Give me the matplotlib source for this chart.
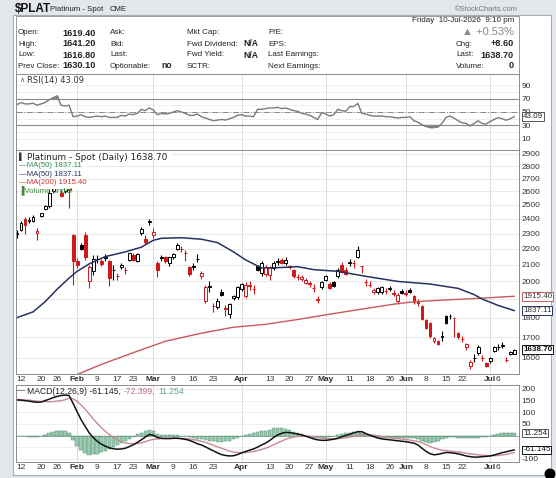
import numpy as np
import pandas as pd
import matplotlib
matplotlib.use("Agg")
import matplotlib.pyplot as plt
from matplotlib.patches import Rectangle, Ellipse
from matplotlib.ticker import NullLocator

plt.rcParams['font.family'] = ['Liberation Sans', 'DejaVu Sans']
plt.rcParams['axes.unicode_minus'] = False

# ---------------- data ----------------
holidays = ['2026-01-19', '2026-02-16', '2026-04-03', '2026-05-25', '2026-06-19', '2026-07-03']
dates = pd.bdate_range('2026-01-09', '2026-07-10', freq='C', holidays=holidays)

opens = [2300,2325,2400,2385,2385,2305,2420,2470,2490,2600,
         2700,2590,2600,2660,2290,2125,2225,2290,2000,2060,
         2135,2125,2143,2125,2068,2032,2085,2066,2130,2160,
         2125,2305,2265,2378,2290,2110,2143,2145,2110,2145,
         2200,2198,2175,2085,2088,2133,2030,1890,1968,1862,
         1855,1942,1850,1820,1905,1910,1955,1915,1978,1956,
         2090,2050,2045,2040,2080,2118,2130,2110,2092,2065,
         2028,2012,1990,1990,1962,1895,1965,2010,1985,1995,
         2030,2100,2070,2113,2112,2150,2092,1997,1982,1940,
         1940,1940,1947,1958,1932,1890,1947,1932,1952,1915,
         1882,1860,1785,1770,1680,1680,1703,1810,1808,1800,
         1720,1692,1650,1565,1598,1625,1601,1575,1585,1635,
         1650,1658,1592,1620,1619.4]
highs = [2325,2385,2410,2410,2425,2335,2445,2500,2610,2720,
         2900,2620,2720,2680,2300,2140,2240,2310,2100,2160,
         2160,2135,2165,2130,2100,2050,2110,2085,2175,2170,
         2175,2345,2290,2400,2340,2120,2160,2155,2150,2175,
         2240,2220,2195,2095,2110,2165,2060,1980,2000,1880,
         1905,1955,1865,1880,1925,1975,1990,1995,2000,1980,
         2100,2120,2100,2090,2125,2140,2140,2145,2100,2075,
         2045,2040,2020,2005,1985,1915,2000,2040,1995,2000,
         2080,2115,2085,2135,2130,2215,2095,2015,2000,1960,
         1970,1975,1960,1975,1950,1935,1955,1950,1960,1920,
         1900,1865,1790,1775,1700,1685,1730,1815,1820,1805,
         1725,1705,1670,1590,1620,1660,1615,1580,1605,1655,
         1665,1675,1605,1635,1641.2]
lows = [2270,2315,2300,2370,2375,2255,2410,2460,2480,2590,
        2690,2555,2590,2480,1980,2080,2190,2130,1960,2040,
        2110,2095,2120,1975,2010,2010,2075,2045,2120,2120,
        2115,2290,2230,2360,2270,2025,2125,2110,2090,2135,
        2190,2180,2120,2030,2065,2115,2015,1880,1940,1830,
        1845,1915,1810,1800,1895,1900,1945,1905,1950,1930,
        2060,2030,2030,2010,2070,2100,2105,2100,2075,2020,
        2010,2000,1985,1970,1940,1880,1955,2000,1955,1965,
        2020,2050,2040,2095,2080,2140,2050,1975,1965,1930,
        1930,1930,1930,1945,1915,1870,1930,1915,1935,1875,
        1860,1785,1740,1695,1670,1660,1680,1765,1790,1700,
        1690,1675,1640,1550,1580,1615,1585,1560,1575,1630,
        1640,1645,1580,1615,1616.8]
closes = [2302,2370,2355,2390,2410,2320,2440,2490,2590,2700,
          2850,2565,2690,2610,2120,2100,2200,2145,2085,2135,
          2138,2105,2145,2020,2070,2030,2100,2065,2170,2130,
          2165,2330,2245,2382,2310,2070,2146,2120,2145,2165,
          2225,2196,2172,2045,2090,2136,2050,1970,1972,1860,
          1890,1925,1848,1870,1918,1970,1985,1980,1976,1954,
          2070,2110,2085,2080,2110,2120,2110,2130,2085,2030,
          2026,2024,2010,1988,1960,1900,1995,2030,1962,1972,
          2070,2055,2045,2116,2110,2190,2090,1995,1980,1952,
          1960,1965,1945,1962,1930,1925,1935,1930,1940,1885,
          1880,1790,1748,1705,1695,1665,1706,1770,1810,1797,
          1700,1690,1665,1580,1600,1650,1600,1565,1600,1650,
          1652,1660,1590,1630.1,1638.7]

rsi = [61,64,62,62,63,60,62,64,68,71,
       74,60,59,60,43,44,46,43,42,43,
       44,43,44,42,42,42,45,44,47,46,
       48,54,52,56,53,46,48,47,48,50,
       52,50,48,45,45,47,43,41,39,37,
       38,39,38,40,42,45,46,44,44,43,
       54,54,55,56,56,57,55,56,54,52,
       51,48,47,45,42,39,49,47,44,46,
       54,52,51,58,58,62.7,48,47,45,44,
       44,44,43,43,42,41,42,42,43,37,
       35,31,29,27,27,28,33,42,44,41,
       37,34,33,29.5,33,37,33,32,36,39,
       41.7,40,37.8,40,43.09]

macd = [153,152,150,148,145,143,144,150,156,163,
        168,172,174,172,138,102,68,40,12,-8,
        -24,-36,-45,-52,-56,-58,-57,-54,-47,-39,
        -29,-18,-6,5,2,-8,-11,-12,-12,-11,
        -11,-13,-16,-20,-27,-35,-40,-48,-57,-65,
        -74,-81,-85,-87,-86,-81,-74,-68,-62,-57,
        -49,-40,-32,-21,-8,3,10,14,13,10,
        7,3,-2,-8,-14,-18,-20,-20,-18,-15,
        -11,-5,1,6,12,17,17,9,2,-4,
        -10,-14,-16,-18,-20,-22,-24,-26,-29,-32,
        -40,-54,-67,-77,-82,-80,-76,-72,-73,-75,
        -78,-82,-87,-90,-92,-92,-90,-89,-87,-83,
        -78,-73,-69,-65,-61.145]
signal = [155,154,153,152,150,148,146,146,145,146,
          148,150,154,160,158,147,131,113,93,72,
          53,35,19,5,-7,-17,-25,-31,-34,-35,
          -34,-31,-26,-20,-16,-14,-13,-13,-13,-12,
          -12,-12,-13,-14,-17,-20,-24,-29,-35,-41,
          -48,-54,-60,-66,-70,-72,-73,-72,-70,-68,
          -64,-59,-54,-47,-39,-31,-23,-16,-10,-6,
          -3,-2,-2,-3,-5,-8,-10,-12,-13,-13,
          -13,-11,-9,-6,-3,1,4,5,4,2,
          -1,-4,-6,-9,-11,-13,-15,-17,-19,-22,
          -25,-31,-38,-46,-53,-58,-62,-64,-66,-68,
          -70,-72,-75,-78,-80,-82,-84,-85,-86,-86,
          -85,-83,-80,-76,-72.399]

ma50_pos = [-1,3,6,9,12,14,17,21,26,30,33,35,40,45,49,53,56,60,64,69,73,79,86,94,102,109,113,115,119,123]
ma50_val = [1800,1830,1885,1955,2020,2060,2105,2150,2180,2210,2255,2268,2272,2262,2240,2180,2130,
            2080,2082,2088,2070,2060,2030,2000,1985,1960,1925,1900,1865,1837.11]
ma200_pos = [14,20,28,36,45,53,61,69,77,85,94,98,106,115,123]
ma200_val = [1525,1570,1625,1680,1720,1750,1765,1790,1818,1845,1875,1885,1895,1905,1915.4]

xtick_dates = ['2026-01-12','2026-01-20','2026-01-26','2026-02-02','2026-02-09','2026-02-17','2026-02-23',
               '2026-03-02','2026-03-09','2026-03-16','2026-03-23','2026-04-01','2026-04-13','2026-04-20',
               '2026-04-27','2026-05-01','2026-05-11','2026-05-18','2026-05-26','2026-06-01','2026-06-08',
               '2026-06-15','2026-06-22','2026-07-01','2026-07-06']
xtick_labels = ['12','20','26','Feb','9','17','23','Mar','9','16','23','Apr','13','20','27','May',
                '11','18','26','Jun','8','15','22','Jul','6']
month_labels = {'Feb','Mar','Apr','May','Jun','Jul'}
price_ticks = [2900,2800,2700,2600,2500,2400,2300,2200,2100,2000,1800,1700,1600]
price_grid = [2900,2800,2700,2600,2500,2400,2300,2200,2100,2000,1900,1800,1700,1600]

# ---------------- layout ----------------
W, H = 556, 478
fig = plt.figure(figsize=(W/100, H/100), dpi=100)
fig.patch.set_facecolor('#e3e6ea')
LEG = ['DejaVu Sans']

def fx(x): return x / W
def fy(y): return 1 - y / H

fig.patches.append(Rectangle((fx(13), fy(475)), (551-13)/W, (475-15)/H, transform=fig.transFigure,
                             facecolor='white', edgecolor='#a8adb4', lw=0.8, zorder=-5))
fig.patches.append(Rectangle((fx(16), fy(74)), (519-16)/W, (74-16)/H, transform=fig.transFigure,
                             facecolor='white', edgecolor='#9a9a9a', lw=0.7, zorder=-4))

def T(x, y, s, **kw):
    kw.setdefault('va', 'center')
    kw.setdefault('fontsize', 6)
    kw.setdefault('color', '#222222')
    return fig.text(fx(x), fy(y), s, **kw)

T(15, 9, '$PLAT', fontsize=8.5, fontweight='bold', color='#111111')
T(50, 9.5, 'Platinum - Spot', fontsize=5.6)
T(110, 9.5, 'CME', fontsize=5.6)
T(518, 9.5, '\u00A9StockCharts.com', fontsize=5.4, ha='right', color='#777777')

T(514, 21, 'Friday  10-Jul-2026  9:10 pm', ha='right', fontsize=5.8)
T(514, 32, '\u25B2 +0.53%', ha='right', fontsize=8, color='#8a8a8a')
rows = [33, 44, 55, 66]
left_lab = ['Open:', 'High:', 'Low:', 'Prev Close:']
left_val = ['1619.40', '1641.20', '1616.80', '1630.10']
col2 = ['Ask:', 'Bid:', 'Last:', 'Optionable:']
col3 = ['Mkt Cap:', 'Fwd Dividend:', 'Fwd Yield:', 'SCTR:']
col4 = ['P/E:', 'EPS:', 'Last Earnings:', 'Next Earnings:']
for i, y in enumerate(rows):
    T(18, y, left_lab[i], fontsize=5.8)
    T(62, y, left_val[i], fontsize=6.6, fontweight='bold')
    T(110, y, col2[i], fontsize=5.8)
    T(187, y, col3[i], fontsize=5.8)
    T(268, y, col4[i], fontsize=5.8)
T(172, 66, 'no', ha='right', fontsize=6.2, fontweight='bold')
T(258, 44, 'N/A', ha='right', fontsize=6.2, fontweight='bold')
T(258, 55, 'N/A', ha='right', fontsize=6.2, fontweight='bold')
T(456, 44, 'Chg:', fontsize=5.8)
T(514, 44, '+8.60', ha='right', fontsize=6.6, fontweight='bold')
T(456, 55, 'Last:', fontsize=5.8)
T(514, 55, '1638.70', ha='right', fontsize=6.6, fontweight='bold')
T(456, 66, 'Volume:', fontsize=5.8)
T(514, 66, '0', ha='right', fontsize=6.6, fontweight='bold')

L, R = 16, 519
ax_rsi = fig.add_axes([fx(L), fy(150), (R-L)/W, 76/H])
ax = fig.add_axes([fx(L), fy(374), (R-L)/W, 224/H])
ax_m = fig.add_axes([fx(L), fy(462), (R-L)/W, 77/H])

n = len(closes)
pos = np.arange(n) - 1
date_index = {d.strftime('%Y-%m-%d'): i - 1 for i, d in enumerate(dates)}
xt = [date_index[d] for d in xtick_dates]
month_pos = [date_index[d] for d, lab in zip(xtick_dates, xtick_labels) if lab in month_labels]
xlim = (-1.25, 124.2)

for a in (ax_rsi, ax, ax_m):
    a.set_xlim(*xlim)
    a.set_facecolor('white')
    for s in a.spines.values():
        s.set_color('#8c8c8c')
        s.set_linewidth(0.7)
        s.set_zorder(15)
    a.yaxis.tick_right()
    a.tick_params(axis='y', length=0, pad=2, labelsize=6, colors='#333333')
    a.tick_params(axis='x', length=0, labelsize=6, colors='#333333')
    for mp in month_pos:
        a.axvline(mp, color='#dcdcdc', lw=0.7, zorder=0)

# ---------------- RSI ----------------
ax_rsi.set_ylim(-6.3, 106.3)
for lv in range(10, 100, 10):
    ax_rsi.axhline(lv, color='#ececec', lw=0.6, zorder=0)
ax_rsi.axhline(70, color='#8a8a8a', lw=0.8, zorder=1)
ax_rsi.axhline(30, color='#8a8a8a', lw=0.8, zorder=1)
ax_rsi.axhline(50, color='#8a8a8a', lw=0.7, ls='-.', zorder=1)
r = np.array(rsi)
ax_rsi.plot(pos, r, color='#7a7a7a', lw=1.0, zorder=3)
ax_rsi.fill_between(pos, r, 70, where=r > 70, interpolate=True, color='#8a8a8a', zorder=2)
ax_rsi.fill_between(pos, r, 30, where=r < 30, interpolate=True, color='#8a8a8a', zorder=2)
ax_rsi.set_yticks([90, 70, 50, 30, 10])
ax_rsi.set_yticklabels(['90', '70', '50', '30', '10'])
ax_rsi.set_xticks([])
ax_rsi.text(0.022, 0.91, 'RSI(14) 43.09', transform=ax_rsi.transAxes, fontsize=6, color='#333333',
            va='center', family=LEG)
ax_rsi.text(0.006, 0.91, '\u2227', transform=ax_rsi.transAxes, fontsize=5, color='#555555', va='center')

def tag(a, y, s, ec, tc, bold=False):
    a.annotate(s, xy=(1.0, y), xycoords=('axes fraction', 'data'), xytext=(3, 0),
               textcoords='offset points', ha='left', va='center', fontsize=5.8, color=tc,
               fontweight='bold' if bold else 'normal',
               bbox=dict(boxstyle='square,pad=0.1', fc='white', ec=ec, lw=0.7),
               annotation_clip=False, zorder=20)

tag(ax_rsi, 43.09, '43.09', '#555555', '#222222')

# ---------------- price ----------------
ax.set_yscale('log')
ax.set_ylim(1527, 2934)
for lv in price_grid:
    ax.axhline(lv, color='#e6e6e6', lw=0.6, zorder=0)
ax.set_yticks(price_ticks)
ax.set_yticklabels([str(p) for p in price_ticks])
ax.yaxis.set_minor_locator(NullLocator())
ax.yaxis.set_minor_formatter(plt.NullFormatter())

o = np.array(opens, float); h = np.array(highs, float)
lo = np.array(lows, float); c = np.array(closes, float)
prev = np.r_[c[0], c[:-1]]
red = '#d01818'
for i in range(n):
    col = 'black' if c[i] >= prev[i] else red
    ax.vlines(pos[i], lo[i], h[i], color=col, lw=0.8, zorder=3)
    b0, b1 = min(o[i], c[i]), max(o[i], c[i])
    face = 'white' if c[i] > o[i] else col
    ax.bar(pos[i], b1 - b0, bottom=b0, width=0.72, facecolor=face, edgecolor=col, lw=0.7, zorder=4)

ax.plot(ma200_pos, ma200_val, color='#c85a5f', lw=1.0, zorder=5)
ax.plot(ma50_pos, ma50_val, color='#26325f', lw=1.1, zorder=5)

ax.add_patch(Rectangle((0, 0.825), 0.142, 0.175, transform=ax.transAxes, facecolor='white',
                       edgecolor='none', zorder=8))
ax.add_patch(Rectangle((0, 0.955), 0.31, 0.045, transform=ax.transAxes, facecolor='white',
                       edgecolor='none', zorder=8))
leg_y = [157, 165.5, 174, 182.5, 190.5]
def ly(y): return (374 - y) / 224.0
ax.text(0.006, ly(157), '\u258C', transform=ax.transAxes, fontsize=5, color='#333333', va='center', zorder=9)
ax.text(0.022, ly(157), 'Platinum - Spot (Daily) 1638.70', transform=ax.transAxes, fontsize=6.4,
        color='#222222', va='center', zorder=9, family=LEG)
leg_items = [('\u2014MA(50) 1837.11', '#2f8a4a'), ('\u2014MA(50) 1837.11', '#26325f'),
             ('\u2014MA(200) 1915.40', '#cc3333'), ('\u2590Volume undef', '#3f8a3f')]
for (s, colr), y in zip(leg_items, leg_y[1:]):
    ax.text(0.006, ly(y), s, transform=ax.transAxes, fontsize=5.6, color=colr, va='center', zorder=9)

tag(ax, 1915.40, '1915.40', '#c85a5f', '#333333')
tag(ax, 1837.11, '1837.11', '#26325f', '#333333')
tag(ax, 1638.70, '1638.70', '#111111', '#111111', bold=True)

ax.set_xticks(xt)
ax.set_xticklabels(xtick_labels)
ax.tick_params(axis='x', pad=1.5)
for t in ax.get_xticklabels():
    if t.get_text() in month_labels:
        t.set_fontweight('bold')

# ---------------- MACD ----------------
ax_m.set_ylim(-112.9, 217)
for lv in [200, 150, 100, 50, 0, -50, -100]:
    ax_m.axhline(lv, color='#ececec', lw=0.6, zorder=0)
m = np.array(macd); sg = np.array(signal)
hist = m - sg
ax_m.bar(pos, hist, width=0.85, color='#9ccab2', edgecolor='#5b8f78', lw=0.35, zorder=2)
ax_m.axhline(0, color='#6a9a84', lw=0.5, zorder=2)
ax_m.plot(pos, sg, color='#c98a93', lw=1.0, zorder=3)
ax_m.plot(pos, m, color='#111111', lw=1.1, zorder=4)
ax_m.set_yticks([200, 150, 100, 50, -100])
ax_m.set_yticklabels(['200', '150', '100', '50', '-100'])
ax_m.set_xticks(xt)
ax_m.set_xticklabels(xtick_labels)
ax_m.tick_params(axis='x', pad=1.5)
for t in ax_m.get_xticklabels():
    if t.get_text() in month_labels:
        t.set_fontweight('bold')

T(17, 391, '\u2014', fontsize=6, color='#111111')
fig.canvas.draw()
rend = fig.canvas.get_renderer()
xcur = 27
for s, colr in [('MACD(12,26,9) -61.145,', '#222222'), ('-72.399,', '#b9707c'), ('11.254', '#5fa383')]:
    t = T(xcur, 391, s, fontsize=6.2, color=colr)
    bb = t.get_window_extent(renderer=rend)
    xcur += bb.width + 3

tag(ax_m, 11.254, '11.254', '#555555', '#222222')
tag(ax_m, -61.145, '-61.145', '#111111', '#111111')

fig.patches.append(Ellipse((fx(550), fy(474)), 11/W, 11/H, transform=fig.transFigure,
                           facecolor='black', edgecolor='none', zorder=5))

fig.savefig('out.png', dpi=100, facecolor=fig.get_facecolor())
